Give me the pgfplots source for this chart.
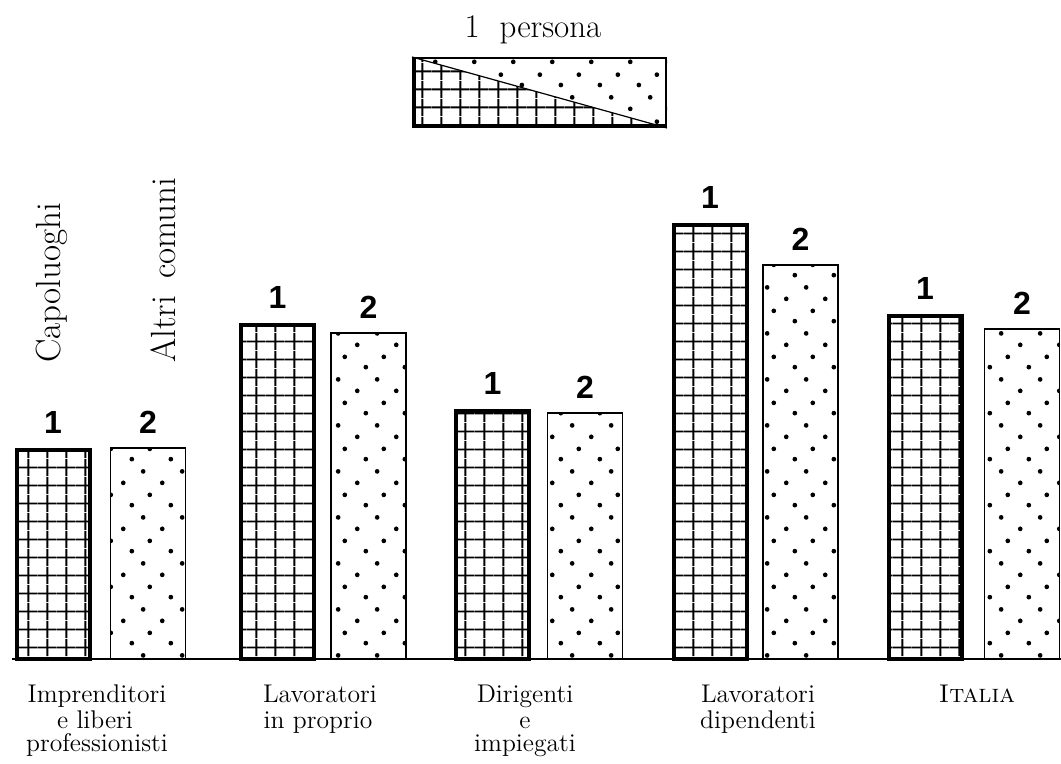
\documentclass[border=0pt]{standalone}
\usepackage{fontspec}
\usepackage{pgfplots}
\pgfplotsset{compat=1.18}
\usetikzlibrary{patterns.meta}
\newfontfamily\numfont{Liberation Sans}

\tikzdeclarepattern{
  name=quadretti,
  type=uncolored,
  bounding box={(0,0) and (9.4pt,9pt)},
  tile size={(9.4pt,9pt)},
  code={
    \draw[line width=1pt] (0,4.5pt) -- (9.4pt,4.5pt);
    \draw[line width=1pt] (4.7pt,0) -- (4.7pt,9pt);
  }
}
\tikzdeclarepattern{
  name=puntini,
  type=uncolored,
  bounding box={(0,0) and (19.5pt,23.2pt)},
  tile size={(19.5pt,23.2pt)},
  code={
    \fill (3.2pt,2.6pt) circle (1.2pt);
    \fill (13.4pt,8.4pt) circle (1.2pt);
    \fill (7.6pt,14.6pt) circle (1.2pt);
    \fill (16.8pt,19.8pt) circle (1.2pt);
  }
}

\newcommand\numlab{\fontsize{16}{16}\selectfont\numfont\bfseries}
\newcommand\catfont{\fontsize{12.8}{14}\selectfont}

\begin{document}
\begin{tikzpicture}
\begin{axis}[
  x=0.5pt, y=0.5pt,
  xmin=0, xmax=1061, ymin=-105, ymax=659,
  hide axis, clip=false,
]
% baseline
\addplot[black, line width=0.8pt] coordinates {(12,0) (1061,0)};

% 1 = Capoluoghi (grid bars)
\addplot[ybar, bar width=73, bar shift=0pt, draw=black, line width=2pt,
  pattern=quadretti, pattern color=black,
  nodes near coords={1},
  every node near coord/.append style={anchor=south, inner sep=0pt, yshift=7pt, font=\numlab}]
  coordinates {(53,209) (277.5,334) (492.5,248) (710,434) (925,343)};

% 2 = Altri comuni (dotted bars)
\addplot[ybar, bar width=75, bar shift=0pt, draw=black, line width=0.75pt,
  pattern=puntini, pattern color=black,
  nodes near coords={2},
  every node near coord/.append style={anchor=south, inner sep=0pt, yshift=7pt, font=\numlab}]
  coordinates {(148,211) (368.5,326) (585,246) (800.5,394) (1022,330)};

% legend key: 1 persona
\addplot[draw=none, pattern=quadretti, pattern color=black]
  coordinates {(412,531) (412,602) (667,531)} -- cycle;
\addplot[draw=none, pattern=puntini, pattern color=black]
  coordinates {(412,602) (667,602) (667,531)} -- cycle;
\addplot[black, line width=0.6pt] coordinates {(412,602) (667,531)};
\addplot[black, line width=2pt] coordinates {(414,602) (414,533) (667,533)};
\addplot[black, line width=0.7pt] coordinates {(412,601) (666,601) (666,531)};

\node[anchor=base, inner sep=0pt, font=\fontsize{16.5}{18}\selectfont]
  at (axis cs:533,621) {1\hspace{0.6em}persona};

% series names
\node[rotate=90, anchor=base west, inner sep=0pt, font=\fontsize{17.5}{19}\selectfont]
  at (axis cs:61,296) {Capoluoghi};
\node[rotate=90, anchor=base west, inner sep=0pt, font=\fontsize{17.5}{19}\selectfont]
  at (axis cs:175,296) {Altri\hspace{0.5em}comuni};

% category labels
\node[anchor=base, inner sep=0pt, font=\catfont] at (axis cs:97,-44) {Imprenditori};
\node[anchor=base, inner sep=0pt, font=\catfont] at (axis cs:95,-70) {e liberi};
\node[anchor=base, inner sep=0pt, font=\catfont] at (axis cs:97,-93) {professionisti};
\node[anchor=base, inner sep=0pt, font=\catfont] at (axis cs:320,-44) {Lavoratori};
\node[anchor=base, inner sep=0pt, font=\catfont] at (axis cs:318,-70) {in proprio};
\node[anchor=base, inner sep=0pt, font=\catfont] at (axis cs:525,-44) {Dirigenti};
\node[anchor=base, inner sep=0pt, font=\catfont] at (axis cs:525,-70) {e};
\node[anchor=base, inner sep=0pt, font=\catfont] at (axis cs:525,-93) {impiegati};
\node[anchor=base, inner sep=0pt, font=\catfont] at (axis cs:758,-44) {Lavoratori};
\node[anchor=base, inner sep=0pt, font=\catfont] at (axis cs:758,-70) {dipendenti};
\node[anchor=base, inner sep=0pt, font=\catfont] at (axis cs:977,-44) {\textsc{Italia}};

\coordinate (bbA) at (axis cs:0,-105);
\coordinate (bbB) at (axis cs:1061,659);
\end{axis}
\pgfresetboundingbox
\path[use as bounding box] (bbA) rectangle (bbB);
\end{tikzpicture}
\end{document}
